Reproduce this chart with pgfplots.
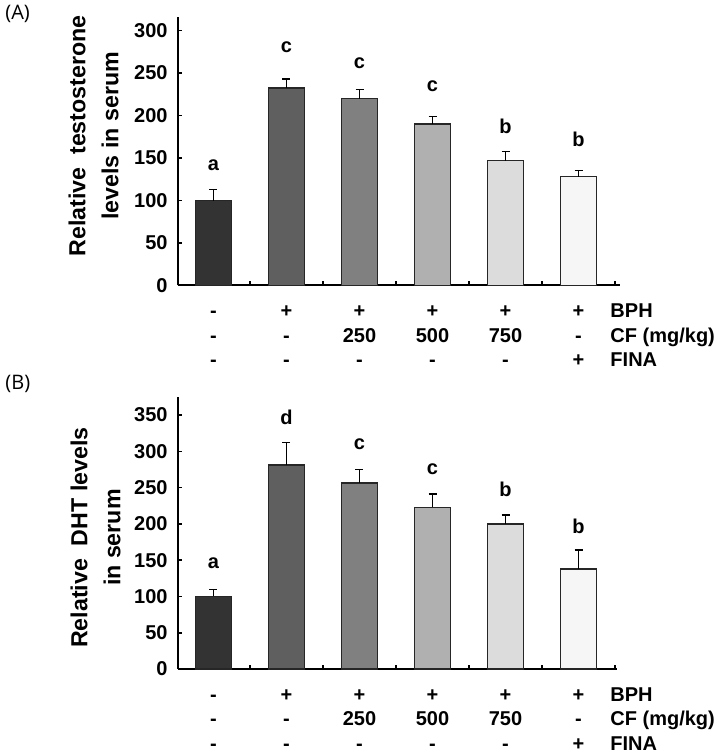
\documentclass[border=0pt]{standalone}
\usepackage{pgfplots}
\pgfplotsset{compat=1.18}
\usepackage{fontspec}
\setmainfont{Liberation Sans}
\newfontfamily\panelfont{Open Sans}
\definecolor{c1}{HTML}{333333}
\definecolor{c2}{HTML}{5F5F5F}
\definecolor{c3}{HTML}{808080}
\definecolor{c4}{HTML}{B0B0B0}
\definecolor{c5}{HTML}{DCDCDC}
\definecolor{c6}{HTML}{F6F6F6}
\pgfplotsset{
  myaxis/.style={
    scale only axis,
    axis x line*=bottom, axis y line*=left,
    axis line style={-, line width=1pt, black},
    tick align=inside,
    xtick={0,...,5},
    minor xtick={0.5,1.5,...,5.5},
    every major x tick/.append style={draw=none},
    every minor x tick/.append style={black, line width=0.8pt},
    minor tick length=2.2pt,
    major tick length=2pt,
    every major y tick/.append style={black, line width=0.8pt},
    ymin=0,
    clip=false,
    /pgf/number format/assume math mode=true,
    yticklabel style={font=\fontsize{10}{12}\selectfont\bfseries, xshift=-1.7pt},
    xticklabel style={font=\fontsize{10}{12.25}\selectfont\bfseries, align=center, yshift=-4pt},
    ylabel style={font=\fontsize{11.6}{16.5}\selectfont\bfseries, align=center, anchor=center},
    xticklabels={{\strut-\\-\\-},{\strut+\\-\\-},{\strut+\\250\\-},{\strut+\\500\\-},{\strut+\\750\\-},{\strut+\\-\\+}},
  },
  mybar/.style={ybar, bar width=0.49, bar shift=0pt, draw=black!85, line width=0.7pt,
    error bars/y dir=plus, error bars/y explicit,
    error bars/error bar style={black, line width=0.7pt},
    error bars/error mark options={rotate=90, black, mark size=2pt, line width=0.7pt}},
}
\tikzset{
  lett/.style={font=\fontsize{10}{12}\selectfont\bfseries},
  rowhead/.style={anchor=north west, align=left, font=\fontsize{10}{12.25}\selectfont\bfseries, inner sep=0.333em, yshift=-4pt},
}
\begin{document}
\begin{tikzpicture}
\path[use as bounding box] (0,0) rectangle (361pt,378pt);
\node[anchor=west, inner sep=0pt, font=\panelfont\fontsize{10}{12}\selectfont] at (2.5pt,371pt) {(A)};
\node[anchor=west, inner sep=0pt, font=\panelfont\fontsize{10}{12}\selectfont] at (2.5pt,186pt) {(B)};

% Panel A
\begin{axis}[myaxis, at={(89pt,235.25pt)}, anchor=south west,
  width=221pt, height=134.25pt,
  xmin=-0.486, xmax=5.568, ymax=316,
  ytick={0,50,...,300},
  ylabel={Relative\ \ testosterone\\levels in serum},
  ylabel style={at={(axis description cs:-0.191,0.557)}},
]
\addplot[fill=c1, mybar] coordinates {(0,100) +- (0,13)};
\addplot[fill=c2, mybar] coordinates {(1,232.5) +- (0,10.5)};
\addplot[fill=c3, mybar] coordinates {(2,220) +- (0,10.5)};
\addplot[fill=c4, mybar] coordinates {(3,190) +- (0,9)};
\addplot[fill=c5, mybar] coordinates {(4,147) +- (0,11)};
\addplot[fill=c6, mybar] coordinates {(5,128) +- (0,7.5)};
\node[lett] at (axis cs:0,141) {a};
\node[lett] at (axis cs:1,280) {c};
\node[lett] at (axis cs:2,262) {c};
\node[lett] at (axis cs:3,234) {c};
\node[lett] at (axis cs:4,187) {b};
\node[lett] at (axis cs:5,171.6) {b};
\node[rowhead] at (axis description cs:0.9625,0) {\strut BPH\\CF (mg/kg)\\FINA};
\end{axis}

% Panel B
\begin{axis}[myaxis, at={(89pt,43.5pt)}, anchor=south west,
  width=219.5pt, height=136pt,
  xmin=-0.486, xmax=5.527, ymax=375,
  ytick={0,50,...,350},
  ylabel={Relative\ \ DHT levels\\in serum},
  ylabel style={at={(axis description cs:-0.188,0.483)}},
]
\addplot[fill=c1, mybar] coordinates {(0,100) +- (0,9.5)};
\addplot[fill=c2, mybar] coordinates {(1,281) +- (0,31)};
\addplot[fill=c3, mybar] coordinates {(2,256.5) +- (0,18.5)};
\addplot[fill=c4, mybar] coordinates {(3,223) +- (0,18)};
\addplot[fill=c5, mybar] coordinates {(4,200) +- (0,12.5)};
\addplot[fill=c6, mybar] coordinates {(5,138) +- (0,26)};
\node[lett] at (axis cs:0,146) {a};
\node[lett] at (axis cs:1,347) {d};
\node[lett] at (axis cs:2,310) {c};
\node[lett] at (axis cs:3,275.6) {c};
\node[lett] at (axis cs:4,248) {b};
\node[lett] at (axis cs:5,197) {b};
\node[rowhead] at (axis description cs:0.969,0) {\strut BPH\\CF (mg/kg)\\FINA};
\end{axis}
\end{tikzpicture}
\end{document}
